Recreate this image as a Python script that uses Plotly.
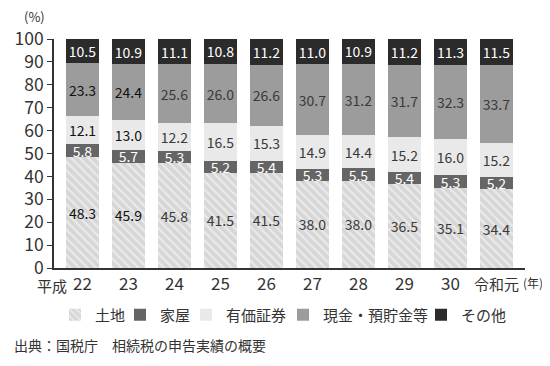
import plotly.graph_objects as go

years = ["22", "23", "24", "25", "26", "27", "28", "29", "30", "令和元"]
land = [48.3, 45.9, 45.8, 41.5, 41.5, 38.0, 38.0, 36.5, 35.1, 34.4]
house = [5.8, 5.7, 5.3, 5.2, 5.4, 5.3, 5.5, 5.4, 5.3, 5.2]
securities = [12.1, 13.0, 12.2, 16.5, 15.3, 14.9, 14.4, 15.2, 16.0, 15.2]
cash = [23.3, 24.4, 25.6, 26.0, 26.6, 30.7, 31.2, 31.7, 32.3, 33.7]
other = [10.5, 10.9, 11.1, 10.8, 11.2, 11.0, 10.9, 11.2, 11.3, 11.5]

FONT = "Noto Sans CJK JP"
W, H = 542, 350          # page body has an 8px margin
ML, MR, MT, MB = 46, 25, 31, 90
PW, PH = W - ML - MR, H - MT - MB
x = list(range(len(years)))

def dark_first_two(n, first="#111111", rest="#3a3a3a"):
    return [first if i < 2 else rest for i in range(n)]

series = [
    ("土地", land, dict(color="#d6d6d6", pattern=dict(shape="\\", fgcolor="#ffffff", bgcolor="#d6d6d6", size=6, solidity=0.35)), dark_first_two(10), 47),
    ("家屋", house, dict(color="#656565"), ["#ffffff"] * 10, 112),
    ("有価証券", securities, dict(color="#e9e9e9"), dark_first_two(10), 178),
    ("現金・預貯金等", cash, dict(color="#9c9c9c"), dark_first_two(10), 275),
    ("その他", other, dict(color="#2b2b2b"), ["#ffffff"] * 10, 413),
]

fig = go.Figure()
legend_layout = {}
for i, (name, vals, marker, tcolors, lx) in enumerate(series):
    lname = "legend" if i == 0 else f"legend{i + 1}"
    fig.add_trace(go.Bar(
        name=name, x=x, y=vals, marker=dict(line=dict(width=0), **marker),
        text=[f"{v:.1f}" for v in vals], textposition="inside", textangle=0,
        insidetextanchor="middle", constraintext="none",
        textfont=dict(family=FONT, size=14, color=tcolors),
        hoverinfo="skip", legend=lname,
    ))
    legend_layout[lname] = dict(
        orientation="h", xref="container", yref="container",
        x=lx / W, xanchor="left", y=1 - 307 / H, yanchor="middle",
        font=dict(family=FONT, size=15, color="#333333"),
        bgcolor="rgba(0,0,0,0)", borderwidth=0, itemwidth=30,
    )

fig.update_layout(
    barmode="stack", bargap=0.28,
    width=W, height=H,
    margin=dict(l=ML, r=MR, t=MT, b=MB, autoexpand=False),
    paper_bgcolor="white", plot_bgcolor="white",
    font=dict(family=FONT, color="#333333"),
    showlegend=True,
    **legend_layout,
)
fig.update_xaxes(
    tickmode="array", tickvals=x,
    ticktext=[t if t.isdigit() else f"<span style='font-size:15px'>{t}</span>" for t in years],
    range=[-0.62, 9.62], showline=True, linecolor="#333333", linewidth=1.5,
    ticks="", showgrid=False, zeroline=False, automargin=False,
    tickfont=dict(family=FONT, size=17, color="#333333"),
)
fig.update_yaxes(
    range=[0, 100], dtick=10, showline=True, linecolor="#333333", linewidth=1.5,
    ticks="outside", ticklen=5, tickcolor="#333333", showgrid=False, zeroline=False,
    automargin=False,
    tickfont=dict(family=FONT, size=17.5, color="#333333"),
)

def px(xf):
    return (xf - ML) / PW

def py(yf):
    return (H - MB - yf) / PH

fig.add_annotation(text="(%)", xref="paper", yref="paper", x=px(26), y=py(8),
                   xanchor="center", yanchor="middle", showarrow=False,
                   font=dict(family=FONT, size=13, color="#333333"))
fig.add_annotation(text="平成", xref="paper", yref="paper", x=px(60), y=py(277),
                   xanchor="right", yanchor="middle", showarrow=False, borderpad=0,
                   font=dict(family=FONT, size=15, color="#333333"))
fig.add_annotation(text="(年)", xref="paper", yref="paper", x=px(513), y=py(274),
                   xanchor="left", yanchor="middle", showarrow=False,
                   font=dict(family=FONT, size=12, color="#333333"))
fig.add_annotation(text="出典：国税庁　相続税の申告実績の概要", xref="paper", yref="paper",
                   x=px(4), y=py(337), xanchor="left", yanchor="middle", showarrow=False,
                   font=dict(family=FONT, size=14, color="#333333"))

fig.write_html("out.html")
